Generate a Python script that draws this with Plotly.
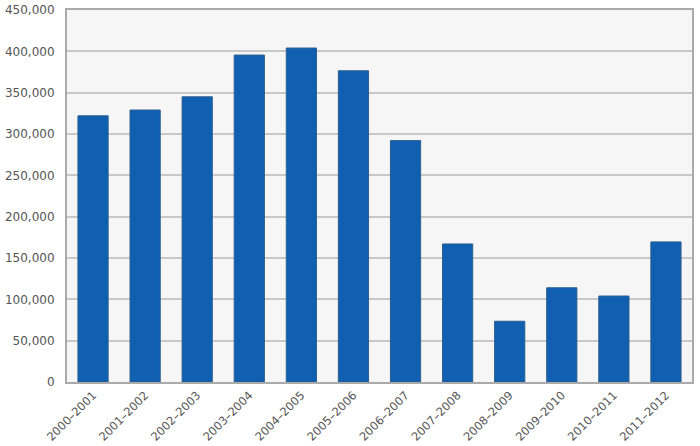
import plotly.graph_objects as go

seasons = ["2000–2001", "2001–2002", "2002–2003", "2003–2004", "2004–2005", "2005–2006",
           "2006–2007", "2007–2008", "2008–2009", "2009–2010", "2010–2011", "2011–2012"]
values = [322000, 329000, 345000, 395500, 404000, 376500,
          292000, 167000, 73500, 114000, 104000, 169500]

fig = go.Figure(go.Bar(
    x=seasons, y=values,
    marker=dict(color="#105FB0", line=dict(color="#2C5F8F", width=1)),
    width=0.58,
))

fig.update_layout(
    width=700, height=446,
    margin=dict(l=67, r=8, t=10, b=64),
    paper_bgcolor="white", plot_bgcolor="#f6f6f6",
    font=dict(family="DejaVu Sans, sans-serif", color="#555555"),
    showlegend=False,
)
fig.update_xaxes(
    type="category", tickangle=-45, tickfont=dict(size=11.5),
    showline=True, linecolor="#aaaaaa", linewidth=2, mirror=True,
    ticks="", showgrid=False, automargin=False,
)
fig.update_yaxes(
    range=[0, 450000], dtick=50000, tickformat=",", tickfont=dict(size=12),
    gridcolor="#c8c8c8", gridwidth=1.5,
    showline=True, linecolor="#aaaaaa", linewidth=2, mirror=True,
    ticks="outside", ticklen=8, tickcolor="rgba(0,0,0,0)", zeroline=False,
    automargin=False,
)

# drop the default 8px body margin so the figure sits at the page corner
fig.write_html("out.html", config={"displayModeBar": False},
               post_script="document.body.style.margin='0';")
